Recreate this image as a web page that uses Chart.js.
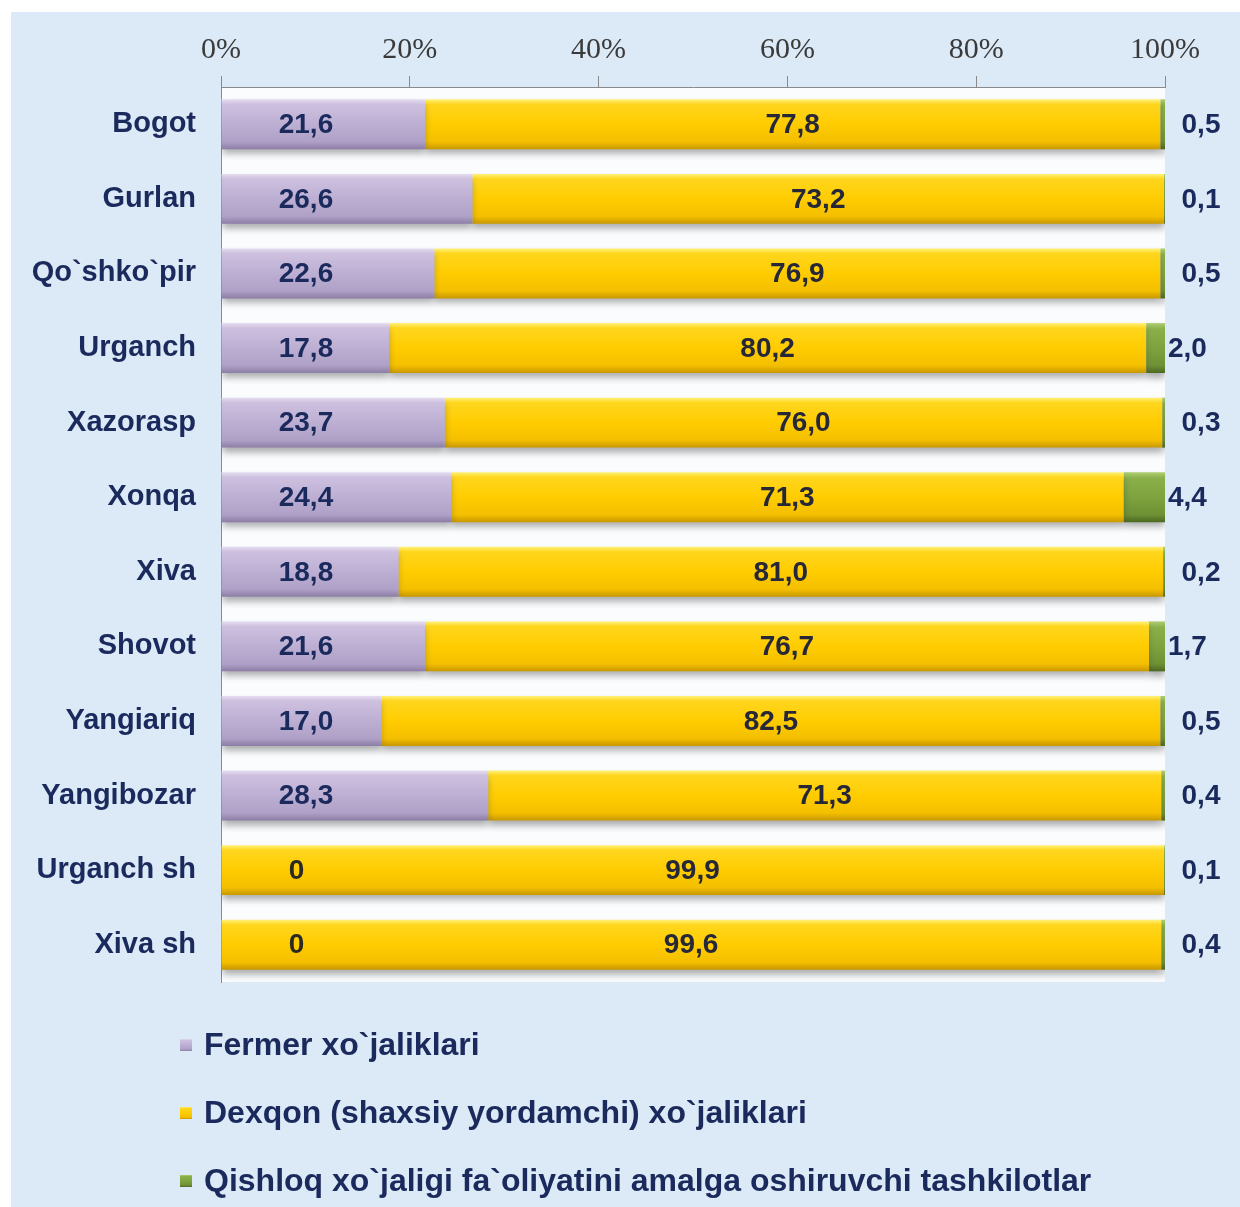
<!DOCTYPE html>
<html>
<head>
<meta charset="utf-8">
<script src="https://cdn.jsdelivr.net/npm/chart.js@4.4.0/dist/chart.umd.min.js"></script>
<style>
html, body { margin: 0; padding: 0; background: #fff; }
#wrap { position: absolute; left: 11px; top: 12px; width: 1229px; height: 1195px; background: #DCE9F6; }
</style>
</head>
<body>
<div id="wrap"><canvas id="myChart"></canvas></div>
<script>
const districts = ['Bogot', 'Gurlan', 'Qo`shko`pir', 'Urganch', 'Xazorasp', 'Xonqa', 'Xiva', 'Shovot', 'Yangiariq', 'Yangibozar', 'Urganch sh', 'Xiva sh'];
const fermer = [21.6, 26.6, 22.6, 17.8, 23.7, 24.4, 18.8, 21.6, 17.0, 28.3, 0, 0];
const dexqon = [77.8, 73.2, 76.9, 80.2, 76.0, 71.3, 81.0, 76.7, 82.5, 71.3, 99.9, 99.6];
const tashkilot = [0.5, 0.1, 0.5, 2.0, 0.3, 4.4, 0.2, 1.7, 0.5, 0.4, 0.1, 0.4];
const seriesNames = ['Fermer xo`jaliklari', 'Dexqon (shaxsiy yordamchi) xo`jaliklari', 'Qishloq xo`jaligi fa`oliyatini amalga oshiruvchi tashkilotlar'];
const xTicks = [0, 20, 40, 60, 80, 100];

const rawSeries = [fermer, dexqon, tashkilot];
const totals = districts.map((d, i) => fermer[i] + dexqon[i] + tashkilot[i]);
const shares = rawSeries.map(s => s.map((v, i) => v / totals[i] * 100));

const navy = '#1B2A5C';
const stops = [
    [[0, '#E6DDF1'], [0.1, '#CDC0DF'], [0.5, '#BDAFD3'], [0.85, '#AFA0C7'], [1, '#8C7DA6']],
    [[0, '#FFF27A'], [0.1, '#FFD61E'], [0.5, '#FFCC00'], [0.85, '#F4BF00'], [1, '#C89800']],
    [[0, '#AFCD72'], [0.12, '#8AB04A'], [0.5, '#7EA33E'], [0.85, '#6E9134'], [1, '#4C6821']]
];
const flat = ['#BDAFD3', '#FFCC00', '#7EA33E'];
const BAR_PCT = 0.67;

const fmt = v => v === 0 ? '0' : v.toFixed(1).replace('.', ',');

function barFill(si) {
    return function (c) {
        const chart = c.chart;
        const y = chart.scales && chart.scales.y;
        if (!y || c.dataIndex === undefined || !chart.chartArea) return flat[si];
        const center = y.getPixelForValue(c.dataIndex);
        const h = (chart.chartArea.bottom - chart.chartArea.top) / districts.length * BAR_PCT;
        const g = chart.ctx.createLinearGradient(0, center - h / 2, 0, center + h / 2);
        stops[si].forEach(s => g.addColorStop(s[0], s[1]));
        return g;
    };
}

const plotBg = {
    id: 'plotBg',
    beforeDraw(chart) {
        const a = chart.chartArea, c = chart.ctx;
        c.save();
        c.fillStyle = '#FBFCFE';
        c.fillRect(a.left, a.top, a.right - a.left, a.bottom - a.top);
        c.restore();
    }
};

const barShadow = {
    id: 'barShadow',
    beforeDatasetsDraw(chart) {
        const c = chart.ctx;
        c.save();
        c.shadowColor = 'rgba(70,70,70,0.45)';
        c.shadowBlur = 7;
        c.shadowOffsetY = 5;
    },
    afterDatasetsDraw(chart) {
        chart.ctx.restore();
    }
};

const valueLabels = {
    id: 'valueLabels',
    afterDraw(chart) {
        const c = chart.ctx, x = chart.scales.x, y = chart.scales.y, a = chart.chartArea;
        c.save();
        c.font = 'bold 28px "Liberation Sans", Arial, sans-serif';
        c.textBaseline = 'middle';
        districts.forEach((d, i) => {
            const cy = y.getPixelForValue(i) + 1;
            // fermer
            c.textAlign = 'center';
            c.fillStyle = fermer[i] === 0 ? '#2A2A22' : navy;
            c.fillText(fmt(fermer[i]), x.getPixelForValue(fermer[i] === 0 ? 8 : 9), cy);
            // dexqon
            const s0 = shares[0][i], s1 = shares[1][i];
            c.fillStyle = '#262838';
            c.fillText(fmt(dexqon[i]), x.getPixelForValue(s0 + s1 / 2), cy);
            // tashkilot
            c.fillStyle = navy;
            if (tashkilot[i] >= 1) {
                c.textAlign = 'left';
                c.fillText(fmt(tashkilot[i]), a.right + 3, cy);
            } else {
                c.textAlign = 'center';
                c.fillText(fmt(tashkilot[i]), a.right + 36, cy);
            }
        });
        c.restore();
    }
};

const listLegend = {
    id: 'listLegend',
    afterDraw(chart) {
        const c = chart.ctx;
        c.save();
        c.font = 'bold 32px "Liberation Sans", Arial, sans-serif';
        c.textBaseline = 'middle';
        c.textAlign = 'left';
        seriesNames.forEach((name, k) => {
            const cy = 1033 + k * 68;
            const g = c.createLinearGradient(0, cy - 6, 0, cy + 6);
            stops[k].forEach(s => g.addColorStop(s[0], s[1]));
            c.fillStyle = g;
            c.fillRect(169, cy - 6, 12, 12);
            c.fillStyle = navy;
            c.fillText(name, 193, cy + 1);
        });
        c.restore();
    }
};

new Chart(document.getElementById('myChart').getContext('2d'), {
    type: 'bar',
    data: {
        labels: districts,
        datasets: seriesNames.map((name, k) => ({
            label: name,
            data: shares[k],
            backgroundColor: barFill(k),
            borderWidth: 0,
            barPercentage: BAR_PCT,
            categoryPercentage: 1
        }))
    },
    options: {
        indexAxis: 'y',
        responsive: true,
        maintainAspectRatio: false,
        animation: false,
        layout: { padding: { left: 0, right: 75, top: 0, bottom: 225 } },
        plugins: {
            legend: { display: false },
            tooltip: { enabled: false }
        },
        scales: {
            x: {
                position: 'top',
                stacked: true,
                min: 0,
                max: 100,
                afterBuildTicks(scale) { scale.ticks = xTicks.map(v => ({ value: v })); },
                afterFit(scale) { scale.height = 75; },
                ticks: {
                    callback: v => v + '%',
                    color: '#3A3A3A',
                    padding: 8,
                    maxRotation: 0,
                    font: { family: '"Liberation Serif", "Times New Roman", serif', size: 30 }
                },
                grid: { drawOnChartArea: false, drawTicks: true, tickLength: 11, color: '#8A8A8A' },
                border: { color: '#8A8A8A' }
            },
            y: {
                stacked: true,
                afterFit(scale) { scale.width = 210; },
                ticks: {
                    color: navy,
                    padding: 25,
                    font: { family: '"Liberation Sans", Arial, sans-serif', size: 29, weight: 'bold' }
                },
                grid: { display: false, drawTicks: false },
                border: { color: '#8A8A8A' }
            }
        }
    },
    plugins: [plotBg, barShadow, valueLabels, listLegend]
});
</script>
</body>
</html>
